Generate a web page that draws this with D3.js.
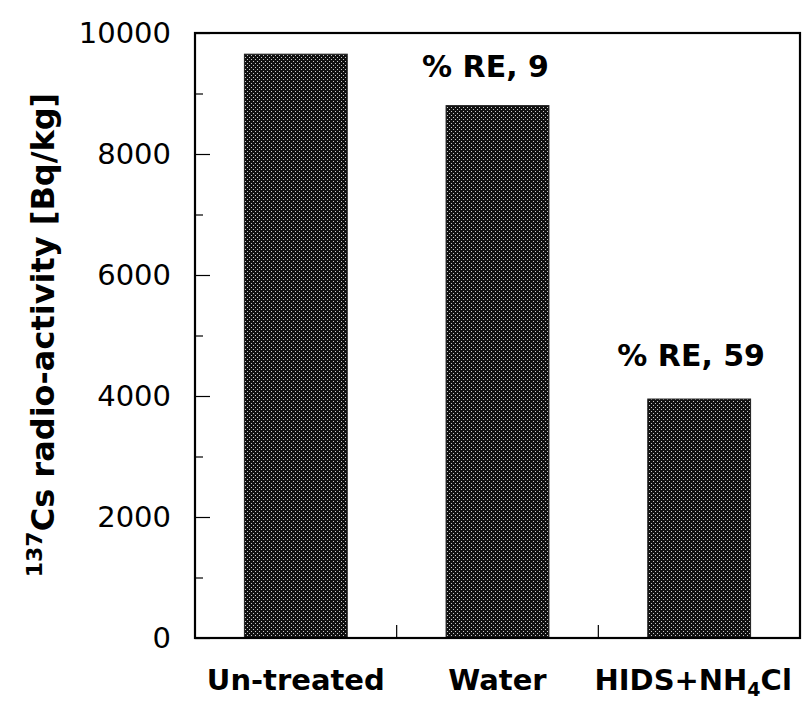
<!DOCTYPE html>
<html><head><meta charset="utf-8">
<script src="https://cdn.jsdelivr.net/npm/d3@7"></script>
<style>body{margin:0;background:#fff}svg{display:block}text{font-family:"DejaVu Sans",Verdana,sans-serif}</style>
</head><body>
<script>
const categories = ["Un-treated","Water","HIDS+NH4Cl"];
const values = [9650, 8800, 3950];
const reLabels = ["", "% RE, 9", "% RE, 59"];
const yTicks = [0,2000,4000,6000,8000,10000];
const yMinorTicks = [1000,3000,5000,7000,9000];

const W=811,H=702;
const m={left:195,right:11,top:33,bottom:64};
const svg=d3.select("body").append("svg").attr("width",W).attr("height",H);
const defs=svg.append("defs");
const pat=defs.append("pattern").attr("id","dots").attr("patternUnits","userSpaceOnUse").attr("width",4).attr("height",4);
pat.append("rect").attr("width",4).attr("height",4).attr("fill","#111");
pat.append("rect").attr("x",1).attr("y",1).attr("width",1).attr("height",1).attr("fill","#c8c8c8");
pat.append("rect").attr("x",3).attr("y",3).attr("width",1).attr("height",1).attr("fill","#c8c8c8");

const data=categories.map((c,i)=>({cat:c,value:values[i],re:reLabels[i]}));

const x=d3.scaleBand().domain(categories).range([m.left,W-m.right]).paddingInner(0.49).paddingOuter(0.245);
const xb=d3.scaleBand().domain(categories).range([m.left,W-m.right]);
const y=d3.scaleLinear().domain([0,10000]).range([H-m.bottom,m.top]);

// bars
svg.selectAll(".bar").data(data).join("rect")
 .attr("x",d=>x(d.cat)).attr("width",x.bandwidth())
 .attr("y",d=>y(d.value)).attr("height",d=>y(0)-y(d.value))
 .attr("fill","url(#dots)").attr("stroke","#222").attr("stroke-width",1);

// frame
svg.append("rect").attr("x",m.left).attr("y",m.top).attr("width",W-m.right-m.left).attr("height",H-m.bottom-m.top)
 .attr("fill","none").attr("stroke","#000").attr("stroke-width",2.2);

// y axis
const ya=svg.append("g").attr("transform",`translate(${m.left},0)`)
 .call(d3.axisLeft(y).tickValues(yTicks).tickSize(-15).tickPadding(24).tickFormat(d3.format("d")));
ya.select(".domain").remove();
ya.selectAll("line").attr("stroke","#000").attr("stroke-width",1.2);
ya.selectAll("text").attr("font-size",29).attr("fill","#000").style("font-family","'DejaVu Sans',sans-serif");
const ym=svg.append("g").attr("transform",`translate(${m.left},0)`)
 .call(d3.axisLeft(y).tickValues(yMinorTicks).tickSize(-8).tickFormat(""));
ym.select(".domain").remove();
ym.selectAll("line").attr("stroke","#000").attr("stroke-width",1.2);

// x ticks at boundaries
const bounds=categories.slice(1).map(c=>xb(c));
svg.selectAll(".xt").data(bounds).join("line")
 .attr("x1",d=>d).attr("x2",d=>d).attr("y1",y(0)).attr("y2",y(0)-13).attr("stroke","#000").attr("stroke-width",1.2);

// x labels
const xl=svg.selectAll(".xl").data(categories).join("text")
 .attr("x",(d,i)=>x(d)+x.bandwidth()/2-(i===2?6:0)).attr("y",690)
 .attr("text-anchor","middle").attr("font-size",29).attr("font-weight","bold");
xl.each(function(d){
  const t=d3.select(this);
  const m2=d.match(/^(.*NH)(\d)(.*)$/);
  if(m2){
    t.append("tspan").text(m2[1]);
    t.append("tspan").attr("font-size",19).attr("dy",6).text(m2[2]);
    t.append("tspan").attr("dy",-6).text(m2[3]);
  } else t.text(d);
});

// RE labels
svg.selectAll(".re").data(data.filter(d=>d.re)).join("text")
 .attr("x",d=>x(d.cat)+x.bandwidth()/2+(d.cat===categories[2]?-8:-12))
 .attr("y",d=>y(d.value)-(d.cat===categories[2]?33:29))
 .attr("text-anchor","middle").attr("font-size",30).attr("font-weight","bold")
 .text(d=>d.re);

// y label
const yl=svg.append("text").attr("transform",`translate(54,335) rotate(-90)`)
 .attr("text-anchor","middle").attr("font-size",32).attr("font-weight","bold");
yl.append("tspan").attr("font-size",22).attr("dy",-12).text("137");
yl.append("tspan").attr("dy",12).text("Cs radio-activity [Bq/kg]");
</script>
</body></html>
